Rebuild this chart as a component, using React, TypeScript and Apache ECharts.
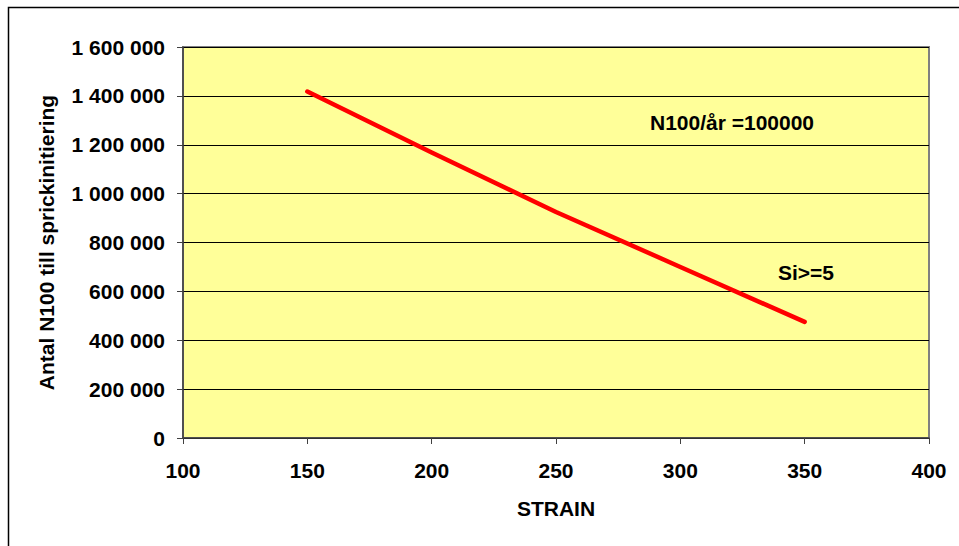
import React, { useEffect, useRef } from "react";
import * as echarts from "echarts";

// Strain levels and the corresponding number of N100 passes until crack initiation
const strain = [150, 200, 250, 300, 350];
const cycles = [1418000, 1168000, 925000, 700000, 475000];

const xTicks = { min: 100, max: 400, interval: 50 };
const yTicks = { min: 0, max: 1600000, interval: 200000 };

const xTitle = "STRAIN";
const yTitle = "Antal N100 till sprickinitiering";
const notes = ["N100/år =100000", "Si>=5"];

const FONT = "'Liberation Sans', Arial, sans-serif";

const fmtThousands = (v: number) =>
  String(Math.round(v)).replace(/\B(?=(\d{3})+(?!\d))/g, " ");

export default function App() {
  const ref = useRef<HTMLDivElement>(null);

  useEffect(() => {
    document.body.style.margin = "0";
    if (!ref.current) return;
    const chart = echarts.init(ref.current, null, { renderer: "svg" });

    const gridLeft = 183;
    const gridTop = 47;
    const gridW = 746;
    const gridH = 391;

    chart.setOption({
      animation: false,
      backgroundColor: "#ffffff",
      textStyle: { fontFamily: FONT },
      grid: {
        left: gridLeft,
        top: gridTop,
        width: gridW,
        height: gridH,
        show: true,
        backgroundColor: "#FFFF99",
        borderColor: "#808080",
        borderWidth: 2,
      },
      xAxis: {
        type: "value",
        min: xTicks.min,
        max: xTicks.max,
        interval: xTicks.interval,
        name: xTitle,
        nameLocation: "middle",
        nameGap: 60,
        nameTextStyle: { fontFamily: FONT, fontWeight: "bold", fontSize: 21, color: "#000" },
        axisLine: { show: true, lineStyle: { color: "#404040", width: 1.5 } },
        axisTick: { show: true, length: 6, lineStyle: { color: "#404040", width: 1 } },
        axisLabel: {
          margin: 22,
          fontFamily: FONT,
          fontWeight: "bold",
          fontSize: 21,
          color: "#000",
        },
        splitLine: { show: false },
      },
      yAxis: {
        type: "value",
        min: yTicks.min,
        max: yTicks.max,
        interval: yTicks.interval,
        name: yTitle,
        nameLocation: "middle",
        nameGap: 126,
        nameTextStyle: { fontFamily: FONT, fontWeight: "bold", fontSize: 21, color: "#000" },
        axisLine: { show: true, lineStyle: { color: "#404040", width: 1.5 } },
        axisTick: { show: true, length: 6, lineStyle: { color: "#404040", width: 1 } },
        axisLabel: {
          margin: 18,
          fontFamily: FONT,
          fontWeight: "bold",
          fontSize: 21,
          color: "#000",
          formatter: (v: number) => fmtThousands(v),
        },
        splitLine: { show: true, lineStyle: { color: "#000", width: 1 } },
      },
      series: [
        {
          type: "line",
          data: strain.map((s, i) => [s, cycles[i]]),
          showSymbol: false,
          symbol: "none",
          lineStyle: { color: "#FF0000", width: 4.5, cap: "round", join: "round" },
          silent: true,
        },
      ],
      graphic: [
        {
          type: "rect",
          shape: { x: 8.5, y: 7.5, width: 1000, height: 600 },
          style: { fill: "none", stroke: "#000", lineWidth: 1.5 },
          silent: true,
          z: 100,
        },
        {
          type: "text",
          x: 732,
          y: 122,
          style: {
            text: notes[0],
            font: `bold 21px ${FONT}`,
            fill: "#000",
            align: "center",
            verticalAlign: "middle",
          },
          z: 50,
        },
        {
          type: "text",
          x: 806,
          y: 272,
          style: {
            text: notes[1],
            font: `bold 21px ${FONT}`,
            fill: "#000",
            align: "center",
            verticalAlign: "middle",
          },
          z: 50,
        },
      ],
    });

    return () => chart.dispose();
  }, []);

  return <div ref={ref} style={{ width: 959, height: 546 }} />;
}
